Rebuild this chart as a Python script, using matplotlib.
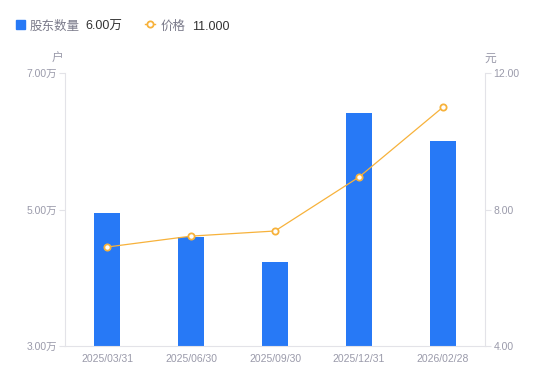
import matplotlib.pyplot as plt
from matplotlib.lines import Line2D
from matplotlib.patches import Rectangle

plt.rcParams['font.family'] = ['Liberation Sans', 'Noto Sans CJK SC', 'DejaVu Sans']

# Data
dates = ['2025/03/31', '2025/06/30', '2025/09/30', '2025/12/31', '2026/02/28']
holders = [4.95, 4.60, 4.23, 6.41, 6.00]   # 万户
prices = [6.90, 7.22, 7.37, 8.95, 11.00]    # 元

bar_color = '#2779F6'
line_color = '#F7B23B'
grid_color = '#E3E3E8'
label_color = '#9A9AAA'

fig = plt.figure(figsize=(5.5, 3.81), dpi=100)
ax = fig.add_axes([65 / 550, 1 - 346 / 381, 420 / 550, 273 / 381])
x = range(len(dates))
ax.bar(x, holders, width=0.3, color=bar_color, zorder=2)
ax.set_ylim(3, 7)
ax.set_xlim(-0.5, len(dates) - 0.5)
ax.set_yticks([3, 5, 7])
ax.set_yticklabels(['3.00万', '5.00万', '7.00万'])
ax.set_xticks(list(x))
ax.set_xticklabels(dates)

ax2 = ax.twinx()
ax2.plot(x, prices, color=line_color, lw=0.9, marker='o', ms=4.5,
         mfc='white', mec=line_color, mew=1.3, zorder=3)
ax2.set_ylim(4, 12)
ax2.set_yticks([4, 8, 12])
ax2.set_yticklabels(['4.00', '8.00', '12.00'])

for a in (ax, ax2):
    for s in a.spines.values():
        s.set_visible(False)
    a.tick_params(labelsize=7.5, colors=label_color, length=4, width=0.8)
    a.tick_params(axis='y', color=grid_color)
ax.spines['left'].set_visible(True)
ax.spines['left'].set_color(grid_color)
ax.spines['bottom'].set_visible(True)
ax.spines['bottom'].set_color(grid_color)
ax2.spines['right'].set_visible(True)
ax2.spines['right'].set_color(grid_color)
ax.tick_params(axis='x', length=0, pad=6)
ax.tick_params(axis='y', pad=2)
ax2.tick_params(axis='y', pad=2)

# axis unit labels
fig.text(58 / 550, 1 - 59 / 381, '户', fontsize=8.5, color=label_color, ha='center', va='center')
fig.text(490 / 550, 1 - 59 / 381, '元', fontsize=8.5, color=label_color, ha='center', va='center')

# legend
ly = 1 - 24 / 381
ty = 1 - 26.5 / 381
fig.patches.append(Rectangle((16 / 550, 1 - 29 / 381), 9 / 550, 9 / 381,
                             transform=fig.transFigure, color=bar_color))
fig.text(30 / 550, ty, '股东数量', fontsize=9, color='#7A7A8A', va='center')
fig.text(85 / 550, ty, '6.00万', fontsize=9, color='#333333', va='center')
fig.lines.append(Line2D([145 / 550, 155 / 550], [ly] * 2, transform=fig.transFigure,
                        color=line_color, lw=1))
fig.lines.append(Line2D([150 / 550], [ly], transform=fig.transFigure, marker='o',
                        ms=4.5, mfc='white', mec=line_color, mew=1.3))
fig.text(161 / 550, ty, '价格', fontsize=9, color='#7A7A8A', va='center')
fig.text(192 / 550, ty, '11.000', fontsize=9, color='#333333', va='center')

fig.savefig('out.png', dpi=100)
